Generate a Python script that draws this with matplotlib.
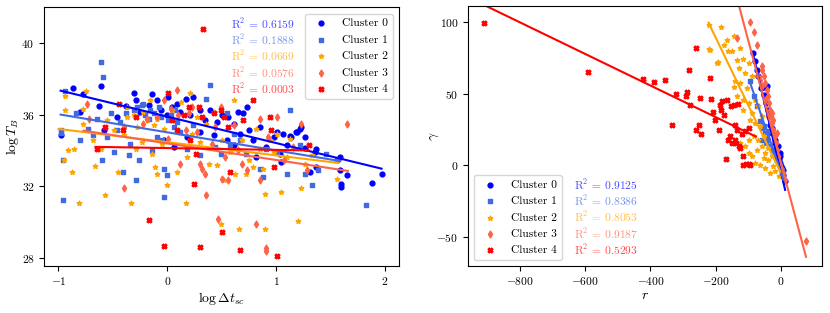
import numpy as np
import matplotlib
matplotlib.use("Agg")
import matplotlib.pyplot as plt

plt.rcParams['font.family'] = 'serif'
plt.rcParams['font.serif'] = ['cmr10']
plt.rcParams['mathtext.fontset'] = 'cm'
plt.rcParams['axes.formatter.use_mathtext'] = True
plt.rcParams['font.size'] = 8.3

# cluster styling
labels = ['Cluster 0', 'Cluster 1', 'Cluster 2', 'Cluster 3', 'Cluster 4']
colors = ['blue', 'royalblue', 'orange', 'tomato', 'red']
markers = ['o', 's', '*', 'd', 'X']

# ---- left panel: log dt_sc vs log T_B ----
left_x0 = [-0.98, -0.87, -0.77, -0.80, -0.61, -0.63, -0.58, -0.46, -0.38, -0.31, -0.29, -0.25, -0.17, -0.14,
           -0.09, -0.06, 0.0, 0.01, 0.04, 0.09, 0.12, 0.17, 0.21, 0.24, 0.30, 0.35, 0.39, 0.46, 0.50, 0.56,
           0.61, 0.65, 0.70, 0.73, 0.75, 0.79, 0.85, 0.91, 0.98, 1.01, 1.04, 1.05, 1.10, 1.14, 1.19, 1.22,
           1.27, 1.31, 1.36, 1.37, 1.59, 1.60, 1.60, 1.65, 1.88, 1.97, 1.59, -0.03, 0.06, 0.18, 0.30, 0.43,
           0.61, 0.67, 0.55, 0.82, 1.23, 1.18, 1.13, 1.06, 1.27, 1.37]
left_y0 = [34.85, 37.47, 37.15, 36.16, 37.6, 36.48, 35.13, 35.84, 36.48, 37.23, 36.81, 36.16, 36.53, 37.15,
           36.8, 36.25, 35.97, 37.0, 36.44, 36.6, 36.16, 36.9, 35.97, 37.0, 36.25, 35.69, 36.25, 35.6, 35.97, 35.88,
           35.5, 36.16, 36.07, 36.44, 35.13, 34.57, 35.32, 34.19, 34.75, 35.04, 33.82, 33.35, 34.29, 34.75, 35.04, 35.22,
           34.75, 32.79, 33.92, 33.05, 32.88, 32.13, 31.98, 32.6, 32.2, 32.7, 33.63, 34.57, 34.19, 34.75, 35.04, 34.85,
           34.29, 34.94, 34.57, 33.63, 35.28, 35.03, 34.79, 34.9, 34.16, 34.1]

left_x1 = [-0.98, -0.98, -0.94, -0.96, -0.96, -0.84, -0.80, -0.73, -0.68, -0.65, -0.61, -0.59, -0.60, -0.55,
           -0.52, -0.49, -0.41, -0.38, -0.35, -0.34, -0.29, -0.26, -0.23, -0.20, -0.16, -0.14, -0.09, -0.05,
           -0.03, -0.03, 0.0, 0.01, 0.06, 0.12, 0.18, 0.24, 0.30, 0.36, 0.39, 0.44, 0.49, 0.55, 0.58, 0.61,
           0.67, 0.72, 0.85, 0.88, 0.91, 1.01, 1.10, 1.13, 1.22, 1.27, 1.33, 1.39, 1.46, 1.56, 1.83,
           -0.31, -0.28, -0.22, -0.17, -0.12, -0.08, -0.06, 0.03, 0.07, 0.09, -0.43, -0.46]
left_y1 = [35.13, 34.98, 37.34, 33.48, 31.23, 36.1, 34.57, 35.22, 34.85, 35.78, 38.93, 38.09, 33.48, 34.75,
           36.07, 33.91, 32.79, 36.07, 33.72, 34.38, 32.32, 33.44, 36.53, 35.97, 36.25, 34.0, 34.75, 34.57,
           31.39, 32.97, 32.6, 35.69, 35.32, 35.04, 34.1, 35.41, 33.72, 36.9, 37.66, 34.19, 33.82, 36.07, 34.29, 34.94,
           34.57, 33.82, 32.97, 32.5, 34.1, 33.91, 32.69, 36.25, 34.29, 32.69, 32.04, 32.88, 33.82, 33.44, 30.92,
           36.25, 36.44, 36.62, 35.78, 36.07, 36.44, 35.88, 35.97, 36.25, 35.6, 35.6, 35.13]

left_x2 = [-0.94, -0.94, -0.95, -0.91, -0.88, -0.86, -0.81, -0.77, -0.77, -0.75, -0.68, -0.66, -0.61, -0.57,
           -0.55, -0.49, -0.45, -0.40, -0.37, -0.33, -0.29, -0.28, -0.23, -0.19, -0.16, -0.14, -0.11, -0.09,
           -0.05, -0.03, 0.0, 0.04, 0.09, 0.13, 0.17, 0.18, 0.21, 0.23, 0.27, 0.30, 0.36, 0.38, 0.43, 0.46,
           0.49, 0.50, 0.52, 0.58, 0.61, 0.62, 0.66, 0.69, 0.72, 0.75, 0.79, 0.82, 0.85, 0.88, 0.90, 0.90,
           0.94, 0.98, 1.01, 1.05, 1.10, 1.13, 1.20, 1.23, 1.27, 1.33, 1.56, -0.37, -0.31, -0.22, -0.12, -0.09]
left_y2 = [37.04, 36.25, 33.48, 34.0, 32.79, 34.1, 31.04, 36.34, 35.5, 37.34, 34.57, 33.1, 34.1, 31.48,
           35.69, 35.13, 32.79, 34.85, 35.88, 31.04, 34.1, 35.32, 34.47, 35.69, 36.81, 33.82, 33.07, 32.7,
           34.38, 35.22, 32.04, 36.25, 32.79, 36.72, 31.04, 33.63, 37.19, 34.94, 35.88, 34.47, 35.5, 33.25, 36.16, 33.16,
           29.88, 34.57, 32.32, 33.91, 36.81, 32.7, 29.6, 34.57, 32.7, 33.44, 33.07, 35.22, 34.1, 32.97, 31.57, 29.6,
           34.57, 33.91, 34.94, 31.67, 33.63, 34.66, 30.07, 31.91, 33.25, 33.72, 32.41, 36.44, 35.97, 36.16, 35.41, 35.78]

left_x3 = [-0.74, -0.72, -0.40, -0.40, -0.19, -0.03, 0.01, 0.09, 0.10, 0.12, 0.17, 0.20, 0.23, 0.27,
           0.30, 0.32, 0.35, 0.36, 0.41, 0.44, 0.47, 0.49, 0.50, 0.53, 0.56, 0.61, 0.65, 0.69, 0.73, 0.82,
           0.85, 0.85, 0.91, 0.91, 0.93, 1.01, 1.07, 1.16, 1.23, 1.28, 1.65, -0.22, -0.09, 0.03]
left_y3 = [36.62, 35.78, 31.89, 35.32, 35.78, 36.81, 34.66, 37.38, 35.97, 33.25, 35.13, 36.07, 36.44, 35.04,
           33.25, 32.97, 32.69, 31.48, 34.38, 35.32, 30.17, 36.44, 32.41, 33.63, 32.32, 35.41, 34.0, 33.25, 32.88, 29.88,
           35.78, 32.32, 28.54, 28.39, 34.75, 35.88, 33.44, 34.19, 35.5, 32.88, 35.5, 35.5, 35.88, 36.34]

left_x4 = [-0.65, -0.57, -0.44, -0.41, -0.29, -0.17, -0.03, 0.01, 0.04, 0.15, 0.20, 0.25, 0.26, 0.29,
           0.30, 0.33, 0.32, 0.43, 0.49, 0.50, 0.52, 0.56, 0.58, 0.67, 0.70, 0.79, 0.94, 0.95, 0.98, 1.01,
           1.30, 0.09, 0.21]
left_y4 = [34.1, 35.32, 36.62, 35.13, 35.88, 30.11, 28.67, 37.19, 35.69, 35.97, 36.44, 32.13, 33.82, 36.44,
           28.58, 40.78, 35.88, 36.07, 36.25, 29.42, 35.88, 35.32, 32.79, 28.42, 35.69, 36.81, 35.88, 35.13, 33.07, 28.1,
           34.29, 35.13, 34.57]

# linear fits: slope, intercept, x range, R^2
left_slope = [-1.478, -1.012, -0.739, -0.926, -0.102]
left_icpt = [35.89, 35.01, 34.46, 34.39, 34.13]
left_lo = [-0.98, -0.98, -1.0, -0.77, -0.66]
left_hi = [1.97, 1.59, 1.57, 1.66, 1.30]
left_r2 = ['0.6159', '0.1888', '0.0669', '0.0576', '0.0003']

# ---- right panel: r vs gamma ----
right_x0 = [-87, -79, -74, -69, -60, -53, -48, -45, -40, -36, -33, -28, -26, -19, -17, -14, -12, -9, -7,
            -5, -2, 1, 3, 6, 8, 13, -43, -52, -9, -2, -4, -12]
right_y0 = [78.5, 72.6, 66.8, 62.1, 54, 49.3, 48.1, 43.4, 38.8, 34.1, 28.3, 25.9, 22.4, 17.8, 15.4, 11.9, 9.6,
            7.2, 4.9, 3.3, 1.4, -0.5, -2.1, -3.7, -6.8, -11.4, 55.1, 54.7, 13.1, 8.4, 6.1, 3.7]

right_x1 = [-94, -84, -74, -63, -58, -53, -48, -43, -38, -33, -28, -23, -17, -12, -7, -2, 3, 8, -46, -36, -58]
right_y1 = [58.6, 48.1, 41.1, 30.6, 25.9, 27.1, 22.4, 20.1, 17.8, 13.1, 10.7, 8.4, 6.1, 3.7, 1.4, -0.9, -3.3,
            -6.8, 15.4, 23.6, 17.8]

right_x2 = [-220, -183, -222, -217, -197, -192, -176, -166, -161, -151, -145, -135, -130, -125, -115, -110,
            -140, -145, -125, -99, -89, -135, -115, -104, -115, -99, -89, -79, -94, -79, -69, -63, -58, -84,
            -69, -53, -58, -48, -38, -38, -28, -23, -17, -7, -74, -89, -99, -79, -63, -48, -33, -53, -110,
            -125, -99]
right_y2 = [97.6, 96.7, 81.3, 80.4, 71.5, 72, 84.3, 87.8, 79.7, 79.7, 90.2, 73.8, 68, 82, 74.3, 64.5,
            58.6, 54.7, 57.5, 71.5, 62.1, 48.1, 45.8, 54, 38.8, 43.4, 36.4, 45.8, 31.8, 29.4, 41.1, 27.1, 34.1, 20.1,
            17.8, 20.1, 13.1, 8.4, 11.9, 3.7, 6.1, -0.9, -4.4, -7.9, 10.7, 6.1, 8.4, 1.4, 0.2, -2.1, -5.6, 4.9, 13.1,
            15.4, 17.8]

right_x3 = [-94, -84, -74, -135, -58, -53, -48, -43, -38, -36, -33, -30, -26, -23, -19, -15, -12, -9, -5,
            1, 8, 13, -63, -58, -48, -28, -38, -23, -12, -58, -69, 77]
right_y3 = [100, 93, 84.3, 89, 66.8, 62.1, 57.5, 52.8, 48.1, 43.4, 38.8, 34.1, 29.4, 24.8, 20.1, 15.4, 10.7,
            6.1, 1.4, -2.1, -5.6, -10.3, 59.8, 55.1, 45.8, 36.4, 34.1, 31.8, 22.4, 69.2, 62.1, -52.8]

right_x4 = [-910, -591, -424, -390, -355, -323, -292, -289, -278, -281, -335, -260, -248, -251, -246, -261,
            -217, -213, -207, -202, -189, -186, -183, -181, -176, -169, -166, -156, -145, -140, -137, -135,
            -130, -125, -120, -115, -110, -107, -99, -96, -132, -153, -161, -140, -99, -115, -151]
right_y4 = [99.5, 65.2, 60.5, 58.2, 59.3, 50, 48.1, 50.9, 42.3, 66.3, 28.3, 82, 46.7, 28, 21.5, 24.3,
            61.2, 46.3, 36.9, 31.8, 24.3, 42.3, 38.8, 45.1, 35.3, 4.2, 45.8, 20.6, 41.8, 28.3, 15.4, 24.8,
            13.1, 11.9, 22, 0.2, 24.1, 0.9, 0.7, 0.2, 42.7, 41.6, 17.8, 17.8, 25.9, 6.1, 15.4]

right_slope = [-0.963, -0.6625, -0.473, -0.854, -0.1103]
right_icpt = [-4.78, -5.0, -5.45, 1.7, 11.5]
right_lo = [-87, -96, -222, -135, -910]
right_hi = [13, 8, -2, 77, -77]
right_r2 = ['0.9125', '0.8386', '0.8053', '0.9187', '0.5293']

left_xs = [left_x0, left_x1, left_x2, left_x3, left_x4]
left_ys = [left_y0, left_y1, left_y2, left_y3, left_y4]
right_xs = [right_x0, right_x1, right_x2, right_x3, right_x4]
right_ys = [right_y0, right_y1, right_y2, right_y3, right_y4]

fig = plt.figure(figsize=(8.3, 3.13), dpi=100)
ax1 = fig.add_axes([0.0534, 0.151, 0.4273, 0.8256])
ax2 = fig.add_axes([0.5642, 0.151, 0.4265, 0.8288])

for i in range(5):
    ax1.scatter(left_xs[i], left_ys[i], s=12, c=colors[i], marker=markers[i], label=labels[i])
    ax2.scatter(right_xs[i], right_ys[i], s=12, c=colors[i], marker=markers[i], label=labels[i])
for i in range(5):
    xx = np.array([left_lo[i], left_hi[i]])
    ax1.plot(xx, left_slope[i] * xx + left_icpt[i], color=colors[i], lw=1.5)
    xx = np.array([right_lo[i], right_hi[i]])
    ax2.plot(xx, right_slope[i] * xx + right_icpt[i], color=colors[i], lw=1.5)

# left panel
ax1.set_xlim(-1.13, 2.13)
ax1.set_ylim(27.55, 42.0)
ax1.set_xticks([-1, 0, 1, 2])
ax1.set_yticks([28, 32, 36, 40])
ax1.set_xlabel(r'$\log \Delta t_{sc}$', fontsize=10, labelpad=2)
ax1.set_ylabel(r'$\log T_B$', fontsize=10, labelpad=0.5)
ax1.legend(loc='upper right', labelspacing=0.55, handletextpad=0.8, borderaxespad=0.55)
for i in range(5):
    ax1.text(0.706, 0.938 - i * 0.0629, r'R$^2$ = %s' % left_r2[i], color=colors[i], alpha=0.7,
             transform=ax1.transAxes, ha='right', va='center', fontsize=8.3)

# right panel
ax2.set_xlim(-959, 127)
ax2.set_ylim(-70.3, 111)
ax2.set_xticks([-800, -600, -400, -200, 0])
ax2.set_yticks([-50, 0, 50, 100])
ax2.set_xlabel(r'$r$', fontsize=10, labelpad=2)
ax2.set_ylabel(r'$\gamma$', fontsize=10, labelpad=-3)
ax2.legend(loc='lower left', labelspacing=0.55, handletextpad=0.8, borderaxespad=0.5)
for i in range(5):
    ax2.text(0.30, 0.314 - i * 0.0628, r'R$^2$ = %s' % right_r2[i], color=colors[i], alpha=0.7,
             transform=ax2.transAxes, ha='left', va='center', fontsize=8.3)

fig.savefig('out.png', dpi=100)
